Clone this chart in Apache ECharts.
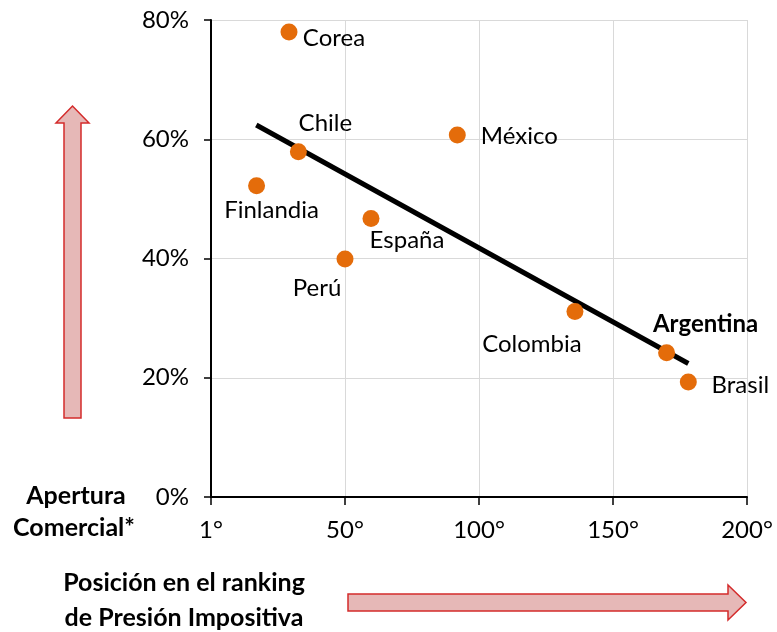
<!DOCTYPE html>
<html>
<head>
<meta charset="utf-8">
<script src="https://cdn.jsdelivr.net/npm/echarts@6/dist/echarts.min.js"></script>
<style>
  html, body { margin: 0; padding: 0; background: #fff; }
  #chart { width: 777px; height: 632px; }
</style>
</head>
<body>
<div id="chart"></div>
<script>
// Countries: ranking position in tax pressure (x) vs. trade openness in % (y)
const countries = ['Corea', 'Chile', 'México', 'Finlandia', 'España', 'Perú', 'Colombia', 'Argentina', 'Brasil'];
const rankingPos = [29.1, 32.6, 91.9, 17.0, 59.7, 50.0, 135.8, 170.0, 178.1];
const apertura = [78.0, 57.9, 60.7, 52.2, 46.7, 39.9, 31.1, 24.2, 19.3];

// Linear trend endpoints (ranking, %)
const trendX = [16.9, 178.1];
const trendY = [62.4, 22.4];

// Axis ticks
const xTicks = [0, 50, 100, 150, 200];
const xTickLabels = ['1°', '50°', '100°', '150°', '200°'];
const yTicks = [0, 20, 40, 60, 80];

// Label placement around each dot (text centre relative to dot centre)
const labelOffsets = {
  'Corea': [45, 6],
  'Chile': [27, -29],
  'México': [62, 1],
  'Finlandia': [15, 25],
  'España': [36, 22],
  'Perú': [-28, 29],
  'Colombia': [-43, 33],
  'Argentina': [39, -28],
  'Brasil': [52, 3]
};

const FONT = 'Lato, "Noto Sans", sans-serif';

const points = countries.map((name, i) => ({
  name: name,
  value: [rankingPos[i], apertura[i]],
  label: {
    show: true,
    position: 'inside',
    align: 'center',
    verticalAlign: 'middle',
    offset: labelOffsets[name],
    formatter: name,
    color: '#000',
    opacity: 1,
    fontFamily: FONT,
    fontSize: 24,
    fontWeight: name === 'Argentina' ? 'bold' : 'normal'
  }
}));

const trendData = trendX.map((x, i) => [x, trendY[i]]);

const chart = echarts.init(document.getElementById('chart'), null, { renderer: 'canvas' });

function arrowUp() {
  // vertical arrow beside the y axis
  return {
    type: 'polygon',
    shape: { points: [[64, 418], [64, 123], [56, 123], [72.5, 106], [89, 123], [81, 123], [81, 418]] },
    style: { fill: '#e6b8b7', stroke: '#d42b2b', lineWidth: 1.5 }
  };
}
function arrowRight() {
  // horizontal arrow beneath the x axis
  return {
    type: 'polygon',
    shape: { points: [[348, 594], [728, 594], [728, 585], [746, 602.5], [728, 620], [728, 611], [348, 611]] },
    style: { fill: '#e6b8b7', stroke: '#d42b2b', lineWidth: 1.5 }
  };
}

function boldText(text, x, y) {
  return {
    type: 'text',
    x: x, y: y,
    style: { text: text, fill: '#000', font: 'bold 25px ' + FONT, align: 'center', verticalAlign: 'middle' }
  };
}

chart.setOption({
  animation: false,
  backgroundColor: '#fff',
  grid: { left: 211, right: 30, top: 20, bottom: 135, containLabel: false },
  xAxis: {
    type: 'value',
    min: xTicks[0],
    max: xTicks[xTicks.length - 1],
    interval: 50,
    axisLine: { show: true, lineStyle: { color: '#000', width: 2 } },
    axisTick: { show: true, inside: false, length: 8, lineStyle: { color: '#000', width: 1.5 } },
    splitLine: { show: true, lineStyle: { color: '#d9d9d9', width: 1 } },
    axisLabel: {
      margin: 21,
      color: '#000',
      fontFamily: FONT,
      fontSize: 24,
      formatter: v => {
        const k = xTicks.indexOf(v);
        return k >= 0 ? xTickLabels[k] : '';
      }
    }
  },
  yAxis: {
    type: 'value',
    min: yTicks[0],
    max: yTicks[yTicks.length - 1],
    interval: 20,
    axisLine: { show: true, lineStyle: { color: '#000', width: 2 } },
    axisTick: { show: true, inside: false, length: 7, lineStyle: { color: '#000', width: 1.5 } },
    splitLine: { show: true, lineStyle: { color: '#d9d9d9', width: 1 } },
    axisLabel: {
      margin: 22,
      color: '#000',
      fontFamily: FONT,
      fontSize: 24,
      formatter: v => v + '%'
    }
  },
  series: [
    {
      type: 'line',
      data: trendData,
      symbol: 'none',
      lineStyle: { color: '#000', width: 5 },
      z: 3,
      silent: true
    },
    {
      type: 'scatter',
      data: points,
      symbol: 'circle',
      symbolSize: 17,
      itemStyle: { color: '#e46c0a', opacity: 1 },
      z: 4
    }
  ],
  graphic: [
    arrowUp(),
    arrowRight(),
    boldText('Apertura', 76, 496),
    boldText('Comercial*', 74, 528),
    boldText('Posición en el ranking', 184, 583),
    boldText('de Presión Impositiva', 184, 618)
  ]
});
</script>
</body>
</html>
